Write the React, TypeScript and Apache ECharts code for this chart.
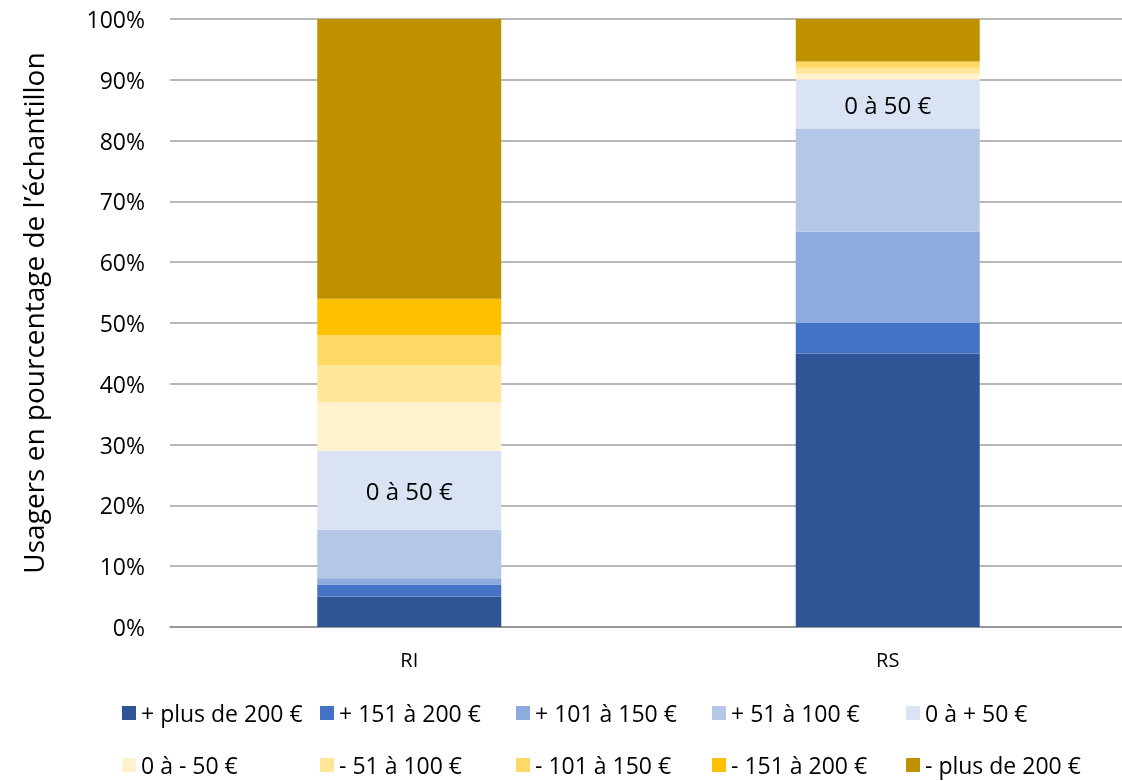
import React, { useEffect, useRef } from "react";
import * as echarts from "echarts";

const categories = ["RI", "RS"];
const seriesNames = [
  "+ plus de 200 €",
  "+ 151 à 200 €",
  "+ 101 à 150 €",
  "+ 51 à 100 €",
  "0 à + 50 €",
  "0 à - 50 €",
  "- 51 à 100 €",
  "- 101 à 150 €",
  "- 151 à 200 €",
  "- plus de 200 €",
];
const riValues = [5, 2, 1, 8, 13, 8, 6, 5, 6, 46];
const rsValues = [45, 5, 15, 17, 8, 1, 1, 1, 0, 7];
const colors = [
  "#2F5597",
  "#4472C4",
  "#8FAADC",
  "#B4C7E7",
  "#DAE3F3",
  "#FFF2CC",
  "#FFE699",
  "#FFD966",
  "#FFC000",
  "#BF9000",
];
const yTicks = [0, 10, 20, 30, 40, 50, 60, 70, 80, 90, 100];
const labelledSeries = "0 à + 50 €";
const labelText = "0 à 50 €";

const FONT = "Open Sans";
const legendLefts = [122, 320, 516, 712, 906];
const legendTops = [699, 751];

export default function App() {
  const ref = useRef<HTMLDivElement>(null);
  useEffect(() => {
    if (!ref.current) return;
    const chart = echarts.init(ref.current, undefined, { renderer: "svg" });
    const legends = seriesNames.map((name, i) => ({
      data: [name],
      left: legendLefts[i % 5],
      top: legendTops[Math.floor(i / 5)],
      itemWidth: 14,
      itemHeight: 14,
      itemGap: 6,
      icon: "rect",
      selectedMode: false,
      padding: 0,
      textStyle: {
        fontFamily: FONT,
        fontSize: 23,
        color: "#000",
        lineHeight: 28,
      },
    }));
    chart.setOption({
      animation: false,
      color: colors,
      grid: { left: 170, width: 957, top: 19, bottom: 154 },
      legend: legends,
      xAxis: {
        type: "category",
        data: categories,
        axisLine: { show: true, lineStyle: { color: "#8C8C8C", width: 1.5 } },
        axisTick: { show: false },
        axisLabel: {
          fontFamily: FONT,
          fontSize: 20,
          color: "#000",
          margin: 22,
        },
      },
      yAxis: {
        type: "value",
        min: 0,
        max: 100,
        interval: 10,
        name: "Usagers en pourcentage de l’échantillon",
        nameLocation: "middle",
        nameGap: 123,
        nameTextStyle: {
          fontFamily: FONT,
          fontSize: 28,
          color: "#000",
          padding: [0, 0, 0, 20],
        },
        axisLine: { show: false },
        axisTick: { show: false },
        splitLine: { lineStyle: { color: "#A0A0A0", width: 1.5 } },
        axisLabel: {
          fontFamily: FONT,
          fontSize: 23,
          color: "#000",
          margin: 25,
          formatter: (v: number) => (yTicks.includes(v) ? v + "%" : ""),
        },
      },
      series: seriesNames.map((name, i) => ({
        name,
        type: "bar",
        stack: "total",
        barWidth: 184,
        data: [riValues[i], rsValues[i]],
        itemStyle: { color: colors[i] },
        label:
          name === labelledSeries
            ? {
                show: true,
                position: "inside",
                formatter: labelText,
                fontFamily: FONT,
                fontSize: 24,
                color: "#000",
              }
            : { show: false },
      })),
    });
    return () => chart.dispose();
  }, []);
  return (
    <div
      style={{
        position: "fixed",
        left: 0,
        top: 0,
        width: 1122,
        height: 781,
        overflow: "hidden",
      }}
    >
      <div ref={ref} style={{ width: 1140, height: 781 }} />
    </div>
  );
}
